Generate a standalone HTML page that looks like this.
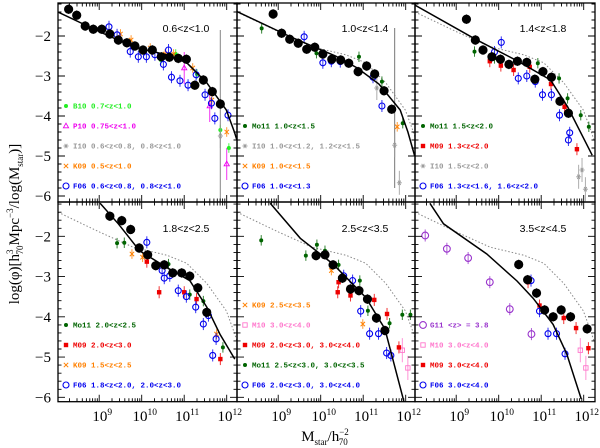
<!DOCTYPE html>
<html><head><meta charset="utf-8"><style>
html,body{margin:0;padding:0;background:#fff}
svg{display:block}
.lg{font-family:"Liberation Mono",monospace;font-size:7.5px;font-weight:bold}
.tt{font-family:"Liberation Sans",sans-serif;font-size:10.5px}
.tk{font-family:"Liberation Serif",serif;font-size:15px}
</style></head><body>
<svg id="c" width="600" height="448" viewBox="0 0 600 448" xmlns="http://www.w3.org/2000/svg"></svg>
<script>
// ---- data (log M, log phi) per panel ----
const panelTitles = ["0.6<z<1.0","1.0<z<1.4","1.4<z<1.8","1.8<z<2.5","2.5<z<3.5","3.5<z<4.5"];
const xTickLabels = ["9","10","11","12"];
const yTickValues = [-2,-3,-4,-5,-6];

const fitX = [
 [8.03,9.02,9.8,10.59,11.06,11.53,11.99,12.18,12.24],
 [8.03,9.35,10.35,10.86,11.37,11.87,12.05,12.21],
 [8.03,9.45,10.45,11.22,11.62,12.2],
 [9.02,9.45,9.95,10.58,11.13,11.53,11.84,12.19],
 [8.81,9.52,10.29,11.06,11.51,11.93,12.0],
 [8.38,8.7,9.72,10.43,10.81,11.28,11.6,11.94]];
const fitY = [
 [-1.4,-1.9,-2.27,-2.47,-2.67,-3.17,-3.85,-4.4,-4.6],
 [-1.39,-2.05,-2.5,-2.8,-3.2,-3.85,-4.4,-5.0],
 [-1.23,-2.08,-2.63,-3.1,-3.77,-4.98],
 [-1.18,-1.69,-2.36,-2.77,-3.1,-3.76,-4.43,-5.05],
 [-1.18,-2.05,-2.69,-3.52,-4.3,-6.0,-6.3],
 [-1.18,-1.69,-2.44,-3.11,-3.54,-4.19,-4.92,-6.04]];

// black: this work
const blackX = [
 [8.28,8.47,8.67,8.86,9.06,9.25,9.45,9.65,9.84,10.03,10.25,10.46,10.65,10.86,11.05,11.25,11.45,11.66,11.85],
 [8.88,9.08,9.27,9.47,9.67,9.86,10.05,10.26,10.47,10.66,10.88,11.08,11.27,11.49,11.67],
 [9.24,9.45,9.63,9.84,10.04,10.24,10.44,10.66,10.85,11.04,11.24,11.44,11.64],
 [9.25,9.53,9.74,9.94,10.14,10.33,10.53,10.73,10.94,11.13,11.32,11.53],
 [9.89,10.1,10.29,10.51,10.7,10.9,11.1,11.31,11.51],
 [10.47,10.68,10.89,11.08,11.28,11.47,11.69,12.08]];
const blackY = [
 [-1.33,-1.48,-1.75,-1.83,-1.83,-1.95,-2.1,-2.17,-2.25,-2.35,-2.35,-2.52,-2.53,-2.56,-2.58,-3.23,-3.1,-3.39,-3.7],
 [-1.45,-1.93,-2.08,-2.18,-2.33,-2.28,-2.45,-2.58,-2.6,-2.68,-2.89,-2.75,-2.95,-3.37,-3.83],
 [-1.58,-2.1,-2.35,-2.52,-2.58,-2.71,-2.63,-2.66,-3.08,-2.89,-3.03,-3.63,-3.93],
 [-1.5,-1.61,-1.83,-2.29,-2.46,-2.73,-2.71,-2.91,-2.91,-2.99,-3.28,-3.89],
 [-2.48,-2.46,-2.71,-3.04,-3.31,-3.35,-3.56,-4.03,-4.34],
 [-2.7,-3.08,-3.41,-3.83,-4.0,-3.83,-4.0,-4.3]];

// F06 (blue open circles)
const f06X = [
 [9.23,9.42,9.73,9.92,10.11,10.31,10.51,10.63,10.7,10.9,11.09,11.28,11.49,11.64,11.72,12.03],
 [9.61,10.05,10.25,10.46,11.23,11.44],
 [9.9,10.06,10.46,10.66,10.86,11.03,11.24,11.43,11.64,11.67],
 [10.12,10.48,10.53,10.66,10.86,11.05,11.27,11.45,11.57,11.67,11.75],
 [10.54,10.75,10.94,11.15,11.36,11.55,11.65],
 [10.76,10.96,11.16,11.36,11.56]];
const f06Y = [
 [-1.77,-1.97,-2.39,-2.52,-2.52,-2.47,-2.71,-2.35,-3.03,-3.12,-3.23,-2.97,-3.47,-3.68,-4.06,-3.98],
 [-2.02,-2.67,-2.63,-2.64,-3.03,-3.75],
 [-2.4,-2.16,-3.06,-3.0,-3.14,-3.47,-3.47,-3.98,-4.6,-4.42],
 [-2.15,-2.85,-3.04,-2.98,-3.35,-3.5,-3.76,-4.18,-3.97,-4.96,-4.55],
 [-2.98,-3.1,-3.86,-4.42,-4.42,-4.9,-4.96],
 [-3.1,-3.86,-4.42,-4.42,-4.92]];

// Mo11 (dark green)
const mo11X = [[],[8.61,9.9,10.9,11.44,11.93],[9.43,9.9,10.92,11.42,11.62,11.93,12.12],
 [9.42,9.59,10.63,11.13,11.45,11.91],[8.6,9.65,9.91,10.1,10.42,10.92,11.11,11.62,11.92,12.11],[]];
const mo11Y = [[],[-1.81,-2.43,-2.52,-3.14,-4.18],[-2.39,-2.56,-2.68,-3.06,-3.56,-3.98,-4.27],
 [-2.17,-2.16,-2.69,-3.45,-3.61,-4.76],[-2.1,-2.48,-2.21,-2.36,-2.71,-3.1,-3.85,-4.16,-3.95,-3.95],[]];

// M09 (red squares)
const m09X = [[],[],[9.79,10.05,10.35,10.73,11.23,11.55,11.84],[10.12,10.41,11.0,11.29,11.85],
 [10.42,10.4,10.7,11.26,11.56,11.84],[10.69,10.96,11.53,11.82,12.11]];
const m09Y = [[],[],[-2.63,-2.74,-2.85,-2.77,-3.2,-3.77,-4.83],[-2.63,-3.39,-3.39,-3.56,-5.05],
 [-3.14,-3.39,-3.47,-3.58,-3.93,-4.76],[-3.14,-3.72,-4.03,-4.28,-4.78]];

// K09 (orange crosses)
const k09X = [[9.5,9.75,10.2,10.55,10.75,11.2,11.65,12.0],[11.8],[],[9.77,10.02,11.76],[10.25,10.99],[]];
const k09Y = [[-1.95,-2.1,-2.3,-2.45,-2.45,-2.8,-3.6,-4.4],[-4.27],[],[-2.44,-2.52,-4.43],[-2.85,-4.18],[]];

// I10 (grey stars)
const i10X = [[11.85],[11.32,11.74,11.85],[11.88,11.96,12.04],[],[],[]];
const i10Y = [[-4.5],[-3.3,-4.73,-5.67],[-5.52,-5.35,-5.83],[],[],[]];

// B10 (light green), P10 (magenta), M10 (pink), G11 (purple)
const b10X = [10.45,10.8,11.3,11.85,12.05]; const b10Y = [-2.6,-2.45,-2.95,-4.35,-4.8];
const p10X = [11.0,11.6,12.0]; const p10Y = [-2.8,-3.75,-5.2];
const m10X = [11.92,12.05]; const m10Y = [-4.83,-5.27];
const g11X = [8.27,8.78,9.28,9.79,10.26,10.77]; const g11Y = [-1.98,-2.31,-2.54,-3.14,-3.81,-4.43];

const legends = [
 [["B10 0.7<z<1.0","#22ee22","b10"],["P10 0.75<z<1.0","#ee00ee","p10"],["I10 0.6<z<0.8, 0.8<z<1.0","#999999","i10"],["K09 0.5<z<1.0","#ff8000","k09"],["F06 0.6<z<0.8, 0.8<z<1.0","#0000ee","f06"]],
 [["Mo11 1.0<z<1.5","#006400","mo11"],["I10 1.0<z<1.2, 1.2<z<1.5","#999999","i10"],["K09 1.0<z<1.5","#ff8000","k09"],["F06 1.0<z<1.3","#0000ee","f06"]],
 [["Mo11 1.5<z<2.0","#006400","mo11"],["M09 1.3<z<2.0","#ee0000","m09"],["I10 1.5<z<2.0","#999999","i10"],["F06 1.3<z<1.6, 1.6<z<2.0","#0000ee","f06"]],
 [["Mo11 2.0<z<2.5","#006400","mo11"],["M09 2.0<z<3.0","#ee0000","m09"],["K09 1.5<z<2.5","#ff8000","k09"],["F06 1.8<z<2.0, 2.0<z<3.0","#0000ee","f06"]],
 [["K09 2.5<z<3.5","#ff8000","k09"],["M10 3.0<z<4.0","#ff77cc","m10"],["M09 2.0<z<3.0, 3.0<z<4.0","#ee0000","m09"],["Mo11 2.5<z<3.0, 3.0<z<3.5","#006400","mo11"],["F06 2.0<z<3.0, 3.0<z<4.0","#0000ee","f06"]],
 [["G11 <z> = 3.8","#9933cc","g11"],["M10 3.0<z<4.0","#ff77cc","m10"],["M09 3.0<z<4.0","#ee0000","m09"],["F06 3.0<z<4.0","#0000ee","f06"]]];

// ---- drawing ----
const NS="http://www.w3.org/2000/svg";
const svg=document.getElementById('c');
function mk(tag,attrs,parent){const e=document.createElementNS(NS,tag);for(const k in attrs)e.setAttribute(k,attrs[k]);(parent||svg).appendChild(e);return e;}
const colX0=[58,237,415], colW=[179,178,180], rowY0=[3,202], rowH=[199,199.7];
function xs(c,L){return colX0[c]+(L-8.03)*42.5;}
function ys(r,v){return (r===0?36:236.3)+(-2-v)*(r===0?40:40.25);}
const defs=mk('defs',{});
function marker(g,type,x,y,col){
  let e;
  if(type==='black'){e=mk('circle',{cx:x,cy:y,r:4.6,fill:'#000'},g);}
  else if(type==='f06'||type==='g11'){e=mk('circle',{cx:x,cy:y,r:type==='g11'?3.4:3,fill:'none',stroke:col,'stroke-width':1.1},g);}
  else if(type==='m09'){e=mk('rect',{x:x-2.2,y:y-2.2,width:4.4,height:4.4,fill:col},g);}
  else if(type==='m10'){e=mk('rect',{x:x-2.2,y:y-2.2,width:4.4,height:4.4,fill:'none',stroke:col,'stroke-width':0.9},g);}
  else if(type==='mo11'||type==='b10'){e=mk('circle',{cx:x,cy:y,r:2,fill:col},g);}
  else if(type==='k09'){e=mk('path',{d:`M${x-2.2},${y-2.2}L${x+2.2},${y+2.2}M${x-2.2},${y+2.2}L${x+2.2},${y-2.2}`,stroke:col,'stroke-width':1},g);}
  else if(type==='i10'){e=mk('path',{d:`M${x-2.5},${y}L${x+2.5},${y}M${x-1.3},${y-2.2}L${x+1.3},${y+2.2}M${x-1.3},${y+2.2}L${x+1.3},${y-2.2}`,stroke:col,'stroke-width':0.9},g);}
  else if(type==='p10'){e=mk('path',{d:`M${x},${y-2.8}L${x+2.6},${y+1.8}L${x-2.6},${y+1.8}Z`,fill:'none',stroke:col,'stroke-width':0.9},g);}
  return e;
}
const colors={black:'#000',f06:'#0000ee',mo11:'#006400',m09:'#ee0000',k09:'#ff8000',i10:'#999999',b10:'#22ee22',p10:'#ee00ee',m10:'#ff77cc',g11:'#9933cc'};
const errs={black:0.12,f06:0.15,mo11:0.13,m09:0.15,k09:0.12,i10:0.3,b10:0.12,p10:0.4,m10:0.3,g11:0.15};

for(let p=0;p<6;p++){
  const c=p%3, r=Math.floor(p/3);
  const x0=colX0[c], y0=rowY0[r], w=colW[c], h=rowH[r];
  const pg=mk('g',{});
  
  
  const cp=mk('clipPath',{id:'cp'+p},defs); mk('rect',{x:x0,y:y0,width:w,height:h},cp);
  const g=mk('g',{'clip-path':'url(#cp'+p+')'},pg);
  // reference dotted curve (panel 1 fit)
  if(p>0){
    const d=fitX[0].map((L,i)=>(i?'L':'M')+xs(c,L).toFixed(1)+','+ys(r,fitY[0][i]).toFixed(1)).join('');
    const e=mk('path',{d,fill:'none',stroke:'#888','stroke-width':1,'stroke-dasharray':'1.5,2'},g);
    
    
  }
  // series
  const series=[['i10',i10X[p],i10Y[p]],['k09',k09X[p],k09Y[p]],['mo11',mo11X[p],mo11Y[p]],['m09',m09X[p],m09Y[p]],['f06',f06X[p],f06Y[p]]];
  if(p===0){series.unshift(['b10',b10X,b10Y]);series.unshift(['p10',p10X,p10Y]);}
  if(p===4||p===5){series.unshift(['m10',m10X,m10Y]);}
  if(p===5){series.unshift(['g11',g11X,g11Y]);}
  series.push(['black',blackX[p],blackY[p]]);
  // big grey error bars
  if(p===0){mk('line',{x1:xs(c,11.85),x2:xs(c,11.85),y1:ys(r,-1.85),y2:ys(r,-6.2),stroke:'#999','stroke-width':1.2},g);}
  if(p===1){mk('line',{x1:xs(c,11.74),x2:xs(c,11.74),y1:ys(r,-1.8),y2:ys(r,-5.8),stroke:'#777','stroke-width':1},g);}
  for(const [type,X,Y] of series){
    const sg=mk('g',{},g);
    
    
    const col=colors[type], er=errs[type];
    X.forEach((L,i)=>{
      const x=xs(c,L), y=ys(r,Y[i]);
      mk('line',{x1:x,x2:x,y1:ys(r,Y[i]+er),y2:ys(r,Y[i]-er),stroke:type==='black'?'#000':col,'stroke-width':1,opacity:0.8},sg);
      const m=marker(sg,type,x,y,col);
      
      
    });
  }
  // fit curve
  const d=fitX[p].map((L,i)=>(i?'L':'M')+xs(c,L).toFixed(1)+','+ys(r,fitY[p][i]).toFixed(1)).join('');
  const fc=mk('path',{d,fill:'none',stroke:'#000','stroke-width':1.5},g);
  
  
  // frame
  const fr=mk('rect',{x:x0,y:y0,width:w,height:h,fill:'none',stroke:'#000','stroke-width':1.3},pg);
  
  
  // ticks
  let td='';
  for(let dec=8;dec<=12;dec++){
    for(let k=1;k<=9;k++){
      const L=dec+Math.log10(k); if(L<8.03||L>12.26) continue;
      const x=xs(c,L), len=(k===1)?7:3.5;
      td+=`M${x.toFixed(1)},${y0+h}v${-len}M${x.toFixed(1)},${y0}v${len}`;
    }
  }
  for(let v=-1.2;v>=-6.3;v-=0.2){
    const vv=Math.round(v*10)/10, y=ys(r,vv); if(y<y0||y>y0+h) continue;
    const len=(Math.abs(vv-Math.round(vv))<0.01)?7:3.5;
    td+=`M${x0},${y.toFixed(1)}h${len}M${x0+w},${y.toFixed(1)}h${-len}`;
  }
  mk('path',{d:td,stroke:'#000','stroke-width':0.9,fill:'none'},pg);
  // title
  const tt=mk('text',{x:x0+(c===2?128:c===1?128:128),y:y0+(r===0?29:30),'text-anchor':'middle',class:'tt'},pg);
  tt.textContent=panelTitles[p];
  
  
  // legend
  const items=legends[p];
  items.forEach((it,i)=>{
    const ly=y0+183-(items.length-1-i)*20;
    const lg=mk('g',{},pg);
    
    
    marker(lg,it[2],x0+8,ly,it[1]);
    const t=mk('text',{x:x0+15,y:ly+2.7,fill:it[1],class:'lg'},lg);
    t.textContent=it[0];
  });
  // tick labels
  if(c===0){
    yTickValues.forEach(v=>{
      const t=mk('text',{x:51,y:ys(r,v)+5,'text-anchor':'end',class:'tk'},svg);
      t.textContent='\u2212'+Math.abs(v);
      
      
    });
  }
  if(r===1){
    xTickLabels.forEach(s=>{
      const x=xs(c,+s);
      const t=mk('text',{x:x+3,y:421,'text-anchor':'middle',class:'tk'},svg);
      t.innerHTML='10<tspan dy="-6" font-size="9.5">'+s+'</tspan>';
      
      
    });
  }
}
// axis titles
const yt=mk('text',{x:0,y:0,transform:'translate(19,224) rotate(-90)','text-anchor':'middle',class:'tk'});
yt.innerHTML='log(\u03C6)[h<tspan dy="-6" font-size="9">3</tspan><tspan dy="10" dx="-5" font-size="9">70</tspan><tspan dy="-4">Mpc</tspan><tspan dy="-6" font-size="9">\u22123</tspan><tspan dy="6">/log(M</tspan><tspan dy="4" font-size="9">star</tspan><tspan dy="-4">)]</tspan>';


const xt=mk('text',{x:325,y:441,'text-anchor':'middle',class:'tk'});
xt.innerHTML='M<tspan dy="4" font-size="9">star</tspan><tspan dy="-4">/h</tspan><tspan dy="-6" font-size="9">\u22122</tspan><tspan dy="10" dx="-10" font-size="9">70</tspan>';


</script>
</body></html>
